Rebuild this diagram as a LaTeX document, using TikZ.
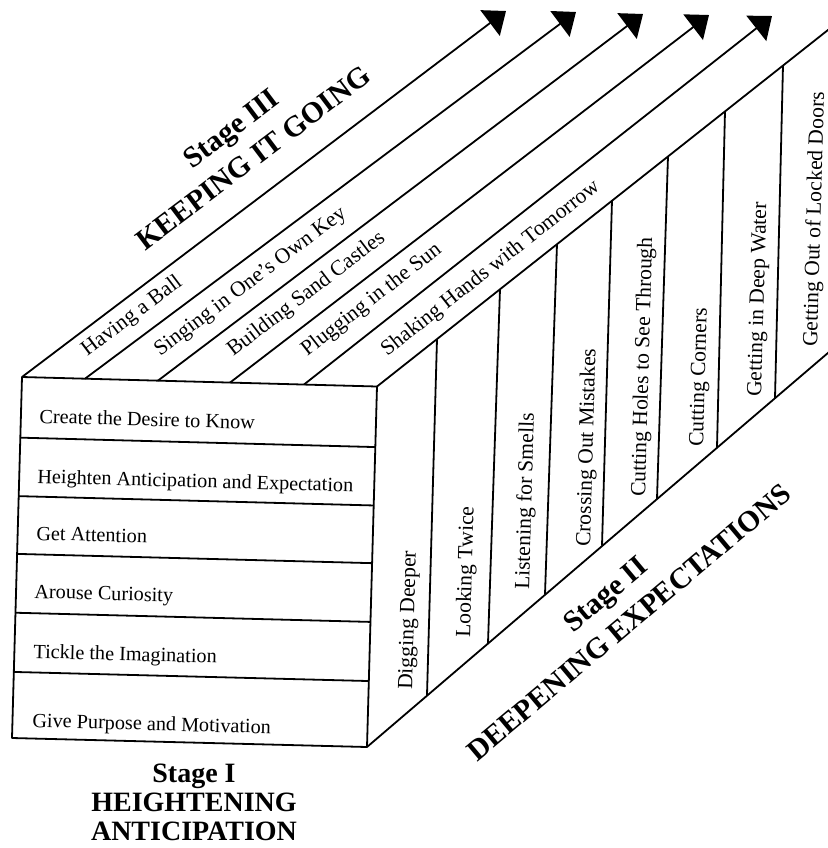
\documentclass[tikz,border=0pt]{standalone}
\usepackage{fontspec}
\setmainfont{Liberation Serif}
\usetikzlibrary{arrows.meta,calc}

\tikzset{
  faceline/.style={line width=0.9pt, line join=round},
  bandarrow/.style={faceline, -{Triangle[length=10pt,width=16pt]}},
  rowtext/.style={inner sep=0pt, anchor=base west, rotate=-1.6, font=\fontsize{10.1}{12}\selectfont},
  striptext/.style={inner sep=0pt, anchor=base west, rotate=88.4, font=\fontsize{10.8}{12}\selectfont},
  bandtext/.style={inner sep=0pt, anchor=base west, font=\fontsize{10.8}{12}\selectfont},
  stagetitle/.style={align=center, inner sep=0pt, font=\bfseries\fontsize{14.8}{18.5}\selectfont}
}

\begin{document}
\begin{tikzpicture}[x=0.5pt, y=-0.5pt]
  \useasboundingbox (0,0) rectangle (828,848);
  % front face
  \coordinate (ftl) at (22,377);
  \coordinate (ftr) at (377,386.5);
  \coordinate (fbr) at (367,747);
  \coordinate (fbl) at (12,738);
  \draw[faceline] (ftl) -- (ftr) -- (fbr) -- (fbl) -- cycle;
  \draw[faceline] ($(ftl)!0.168!(fbl)$) -- ($(ftr)!0.168!(fbr)$);
  \draw[faceline] ($(ftl)!0.330!(fbl)$) -- ($(ftr)!0.330!(fbr)$);
  \draw[faceline] ($(ftl)!0.490!(fbl)$) -- ($(ftr)!0.490!(fbr)$);
  \draw[faceline] ($(ftl)!0.653!(fbl)$) -- ($(ftr)!0.653!(fbr)$);
  \draw[faceline] ($(ftl)!0.817!(fbl)$) -- ($(ftr)!0.817!(fbr)$);
  \node[rowtext] (desire) at (39,423) {Create the Desire to Know};
  \node[rowtext] (expectation) at (37,483) {Heighten Anticipation and Expectation};
  \node[rowtext] (attention) at (36,540) {Get Attention};
  \node[rowtext] (curiosity) at (34,598) {Arouse Curiosity};
  \node[rowtext] (imagination) at (33,658) {Tickle the Imagination};
  \node[rowtext] (purpose) at (32,727) {Give Purpose and Motivation};

  % top bands with arrows
  \coordinate (b2) at (85,378.7);
  \coordinate (b3) at (158,380.6);
  \coordinate (b4) at (230,382.6);
  \coordinate (b5) at (304,384.5);
  \coordinate (t1) at (506,11);
  \coordinate (t2) at (576,12);
  \coordinate (t3) at (643,14);
  \coordinate (t4) at (709,15);
  \coordinate (t5) at (772,16);
  \coordinate (str) at (830,28.4);
  \draw[bandarrow] (ftl) -- (t1);
  \draw[bandarrow] (b2) -- (t2);
  \draw[bandarrow] (b3) -- (t3);
  \draw[bandarrow] (b4) -- (t4);
  \draw[bandarrow] (b5) -- (t5);
  \draw[faceline] (ftr) -- (str);
  \node[bandtext, rotate=37] (ball) at (87,357) {Having a Ball};
  \node[bandtext, rotate=37] (key) at (160,357) {Singing in One's Own Key};
  \node[bandtext, rotate=37.3] (castles) at (233,357) {Building Sand Castles};
  \node[bandtext, rotate=37.8] (sun) at (307,357) {Plugging in the Sun};
  \node[bandtext, rotate=38.2] (tomorrow) at (387,357) {Shaking Hands with Tomorrow};

  % side face
  \coordinate (sbr) at (830,351.2);
  \draw[faceline] (fbr) -- (sbr);
  \draw[faceline] (437,339.1) -- (427,695);
  \draw[faceline] (500,289.3) -- (488,643);
  \draw[faceline] (557,244.2) -- (545,594.3);
  \draw[faceline] (612,200.7) -- (602,545.7);
  \draw[faceline] (668,156.4) -- (657,498.8);
  \draw[faceline] (725,111.4) -- (717,447.6);
  \draw[faceline] (783,65.5) -- (775,398.1);
  \node[striptext] (digging) at (412,690) {Digging Deeper};
  \node[striptext] (looking) at (470,638) {Looking Twice};
  \node[striptext] (smells) at (529,590) {Listening for Smells};
  \node[striptext] (mistakes) at (590,547) {Crossing Out Mistakes};
  \node[striptext] (holes) at (645,497) {Cutting Holes to See Through};
  \node[striptext] (corners) at (703,447) {Cutting Corners};
  \node[striptext] (water) at (761,397) {Getting in Deep Water};
  \node[striptext] (doors) at (817,347) {Getting Out of Locked Doors};

  % stage titles
  \node[stagetitle, rotate=37] (stage3) at (242,143) {Stage III\\KEEPING IT GOING};
  \node[stagetitle, rotate=40] (stage2) at (617,608) {Stage II\\DEEPENING EXPECTATIONS};
  \node[stagetitle, font=\bfseries\fontsize{14}{14.5}\selectfont] (stage1) at (194,802) {Stage I\\HEIGHTENING\\ANTICIPATION};
\end{tikzpicture}
\end{document}
